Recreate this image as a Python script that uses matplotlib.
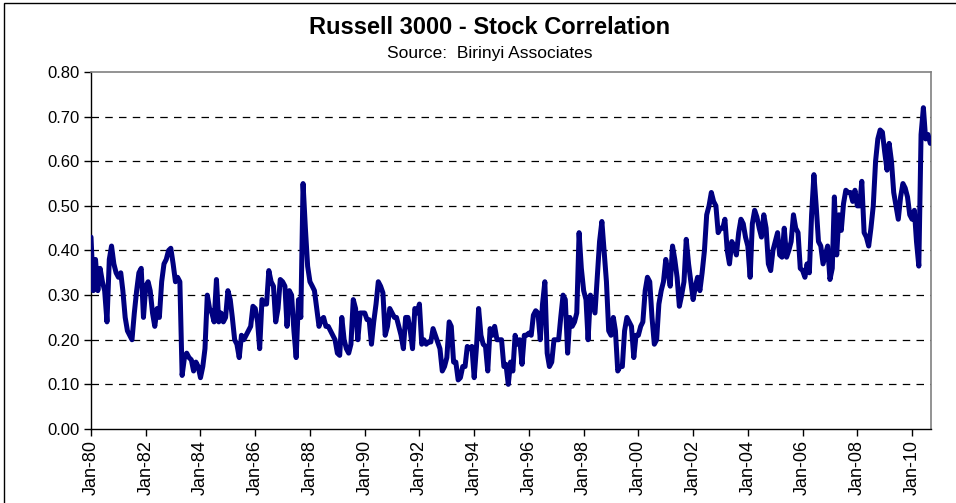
#!/usr/bin/env python3

import matplotlib.pyplot as plt
import matplotlib.dates as mdates
import pandas as pd
from matplotlib.patches import Rectangle
from matplotlib.ticker import FuncFormatter

# Monthly readings of the Russell 3000 average stock correlation,
# one row per year, starting Jan 1980.
corr_1980s = [
    0.43, 0.31, 0.38, 0.31, 0.36, 0.33, 0.31, 0.24, 0.38, 0.41, 0.37, 0.35,  # 1980
    0.34, 0.35, 0.31, 0.25, 0.22, 0.21, 0.20, 0.26, 0.31, 0.35, 0.36, 0.25,  # 1981
    0.32, 0.33, 0.31, 0.26, 0.23, 0.27, 0.25, 0.33, 0.37, 0.38, 0.40, 0.405,  # 1982
    0.37, 0.33, 0.34, 0.33, 0.12, 0.16, 0.17, 0.16, 0.155, 0.13, 0.15, 0.14,  # 1983
    0.115, 0.14, 0.18, 0.30, 0.27, 0.26, 0.24, 0.335, 0.24, 0.26, 0.24, 0.25,  # 1984
    0.31, 0.29, 0.25, 0.20, 0.19, 0.16, 0.21, 0.20, 0.21, 0.22, 0.23, 0.275,  # 1985
    0.27, 0.24, 0.18, 0.29, 0.28, 0.28, 0.355, 0.33, 0.32, 0.24, 0.27, 0.335,  # 1986
    0.33, 0.32, 0.23, 0.31, 0.30, 0.22, 0.16, 0.29, 0.25, 0.55, 0.45, 0.365,  # 1987
    0.33, 0.32, 0.31, 0.27, 0.23, 0.245, 0.25, 0.23, 0.23, 0.22, 0.21, 0.20,  # 1988
    0.17, 0.165, 0.25, 0.20, 0.18, 0.17, 0.19, 0.29, 0.27, 0.20, 0.26, 0.26,  # 1989
]
corr_1990s = [
    0.26, 0.245, 0.245, 0.19, 0.24, 0.28, 0.33, 0.32, 0.305, 0.21, 0.23, 0.27,  # 1990
    0.26, 0.25, 0.25, 0.23, 0.21, 0.18, 0.25, 0.25, 0.22, 0.18, 0.27, 0.26,  # 1991
    0.28, 0.19, 0.20, 0.19, 0.195, 0.195, 0.225, 0.21, 0.195, 0.18, 0.13, 0.14,  # 1992
    0.16, 0.24, 0.23, 0.15, 0.15, 0.11, 0.115, 0.14, 0.14, 0.185, 0.18, 0.185,  # 1993
    0.115, 0.185, 0.27, 0.21, 0.19, 0.185, 0.13, 0.225, 0.21, 0.23, 0.20, 0.20,  # 1994
    0.20, 0.14, 0.145, 0.10, 0.15, 0.13, 0.21, 0.19, 0.20, 0.145, 0.21, 0.21,  # 1995
    0.215, 0.21, 0.255, 0.265, 0.26, 0.20, 0.28, 0.33, 0.17, 0.14, 0.15, 0.20,  # 1996
    0.20, 0.20, 0.25, 0.30, 0.29, 0.17, 0.25, 0.23, 0.24, 0.26, 0.44, 0.36,  # 1997
    0.31, 0.29, 0.20, 0.30, 0.28, 0.26, 0.34, 0.42, 0.465, 0.40, 0.33, 0.22,  # 1998
    0.21, 0.25, 0.22, 0.13, 0.14, 0.14, 0.22, 0.25, 0.24, 0.23, 0.16, 0.21,  # 1999
]
corr_2000s = [
    0.21, 0.23, 0.24, 0.31, 0.34, 0.33, 0.25, 0.19, 0.20, 0.28, 0.31, 0.33,  # 2000
    0.38, 0.35, 0.32, 0.41, 0.38, 0.34, 0.275, 0.30, 0.33, 0.425, 0.37, 0.33,  # 2001
    0.29, 0.32, 0.34, 0.31, 0.35, 0.40, 0.48, 0.50, 0.53, 0.51, 0.50, 0.44,  # 2002
    0.45, 0.45, 0.47, 0.40, 0.37, 0.42, 0.41, 0.39, 0.44, 0.47, 0.46, 0.43,  # 2003
    0.41, 0.34, 0.46, 0.49, 0.475, 0.45, 0.43, 0.48, 0.45, 0.37, 0.355, 0.40,  # 2004
    0.42, 0.44, 0.39, 0.385, 0.45, 0.385, 0.40, 0.42, 0.48, 0.45, 0.44, 0.36,  # 2005
    0.355, 0.34, 0.37, 0.35, 0.48, 0.57, 0.50, 0.42, 0.41, 0.37, 0.39, 0.41,  # 2006
    0.335, 0.36, 0.52, 0.39, 0.48, 0.445, 0.505, 0.535, 0.53, 0.53, 0.51, 0.535,  # 2007
    0.50, 0.50, 0.555, 0.44, 0.43, 0.41, 0.45, 0.50, 0.60, 0.65, 0.67, 0.665,  # 2008
    0.62, 0.58, 0.64, 0.60, 0.53, 0.50, 0.47, 0.52, 0.55, 0.54, 0.52, 0.48,  # 2009
]
corr_2010 = [0.47, 0.49, 0.42, 0.365, 0.66, 0.72, 0.65, 0.66, 0.64]

start_month = "1980-01-01"
tick_years = list(range(1980, 2011, 2))
tick_labels = [f"Jan-{y % 100:02d}" for y in tick_years]
y_ticks = [0.0, 0.1, 0.2, 0.3, 0.4, 0.5, 0.6, 0.7, 0.8]

TITLE = "Russell 3000 - Stock Correlation"
SUBTITLE = "Source:  Birinyi Associates"


def build_series():
    values = corr_1980s + corr_1990s + corr_2000s + corr_2010
    idx = pd.date_range(start_month, periods=len(values), freq="MS")
    return pd.Series(values, index=idx)


def main():
    plt.rcParams['font.family'] = ['Liberation Sans', 'DejaVu Sans']

    s = build_series()

    fig = plt.figure(figsize=(9.56, 5.03), dpi=100)
    ax = fig.add_axes([0.0952, 0.1471, 0.8786, 0.7098])

    ax.plot(s.index, s.values, color='#000080', lw=3.6,
            solid_joinstyle='round', solid_capstyle='round', zorder=3)

    # Axes range and ticks.
    ax.set_ylim(0, 0.8)
    ax.set_xlim(pd.Timestamp("1980-01-01"), pd.Timestamp("2010-09-10"))
    ax.set_yticks(y_ticks)
    ax.yaxis.set_major_formatter(FuncFormatter(lambda v, p: f"{v:.2f}"))
    ticks = [mdates.date2num(pd.Timestamp(f"{y}-01-01")) for y in tick_years]
    ax.set_xticks(ticks)
    ax.set_xticklabels(tick_labels, rotation=90)
    ax.tick_params(direction='out', length=5, width=1, color='black', pad=3)
    ax.tick_params(axis='x', labelsize=13)
    ax.tick_params(axis='y', labelsize=12)

    # Dashed horizontal gridlines.
    for v in y_ticks[1:-1]:
        ax.axhline(v, color='black', lw=0.9, ls=(0, (6, 5)), zorder=1)

    for side in ('left', 'bottom'):
        ax.spines[side].set_color('black')
        ax.spines[side].set_linewidth(1.0)
    for side in ('top', 'right'):
        ax.spines[side].set_color('#808080')
        ax.spines[side].set_linewidth(1.2)

    # Titles.
    fig.text(0.512, 0.946, TITLE, ha='center', va='center',
             fontsize=17, fontweight='bold')
    fig.text(0.512, 0.894, SUBTITLE, ha='center', va='center', fontsize=12.5)

    # Outer chart border.
    fig.patches.append(Rectangle((0.004, -0.02), 1.1, 1.014, fill=False,
                                 edgecolor='black', lw=1.0,
                                 transform=fig.transFigure, figure=fig))

    fig.savefig('out.png', dpi=100)


if __name__ == '__main__':
    main()
